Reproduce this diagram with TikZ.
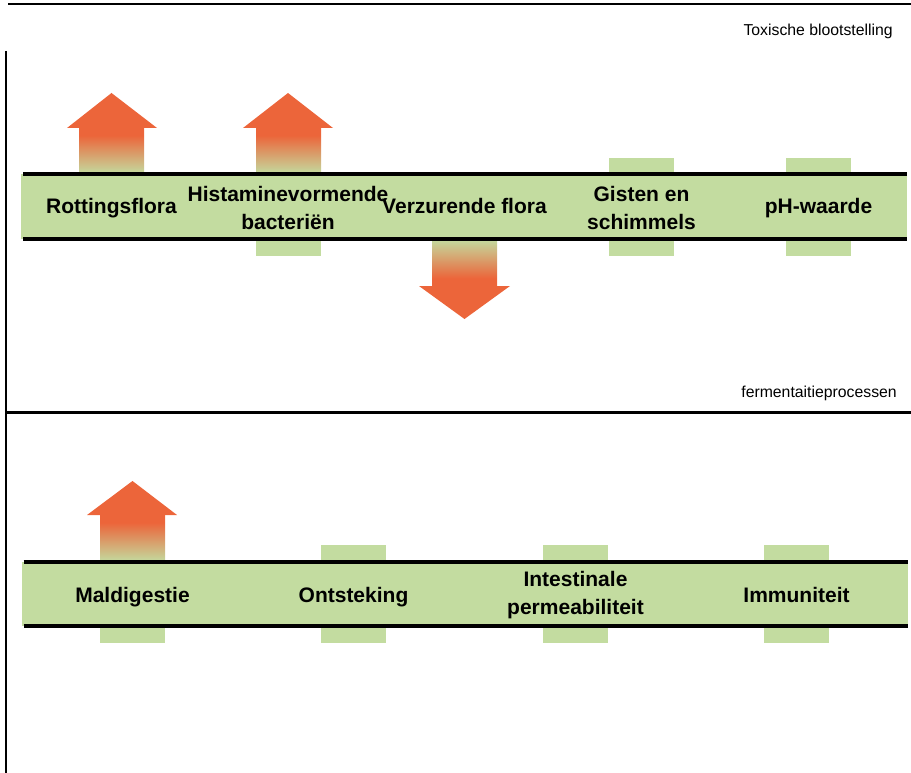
\documentclass[tikz,border=0pt]{standalone}
\usepackage{fontspec}
\setmainfont{Liberation Sans}
\definecolor{bandgreen}{HTML}{C3DCA0}
\definecolor{arroworange}{HTML}{EC653A}
\pgfdeclareverticalshading{upgrad}{100bp}{color(0bp)=(bandgreen); color(25bp)=(bandgreen); color(66bp)=(arroworange); color(100bp)=(arroworange)}
\pgfdeclareverticalshading{downgrad}{100bp}{color(0bp)=(arroworange); color(34bp)=(arroworange); color(75bp)=(bandgreen); color(100bp)=(bandgreen)}
\begin{document}
\begin{tikzpicture}[x=1pt,y=-1pt,
  bandbox/.style={fill=bandgreen, draw=none, inner sep=0pt, outer sep=0pt, anchor=north west},
  tabbox/.style={fill=bandgreen, draw=none},
  bandline/.style={line width=3.5pt, black},
  frameline/.style={line width=2pt, black},
  lbl/.style={font=\bfseries\fontsize{21}{28}\selectfont, inner sep=0pt, align=center},
  smalltxt/.style={font=\fontsize{15.8}{19}\selectfont, inner sep=0pt, anchor=base east},
  arrowhead/.style={fill=arroworange, draw=none},
  upshaft/.style={shading=upgrad, draw=none},
  downshaft/.style={shading=downgrad, draw=none}
]
\useasboundingbox (0,0) rectangle (911,773);

% frame lines
\coordinate (tl) at (8,4);
\coordinate (tr) at (911,4);
\coordinate (vl) at (6,51);
\coordinate (vb) at (6,773);
\coordinate (ml) at (6,412);
\coordinate (mr) at (911,412);
\draw[frameline] (tl) -- (tr);
\draw[frameline] (vl) -- (vb);
\draw[line width=3pt] (ml) -- (mr);

% small texts
\node[smalltxt] (tox) at (893,36) {Toxische blootstelling};
\node[smalltxt] (ferm) at (897,397) {fermentaitieprocessen};

% ---------- top band ----------
% tabs
\fill[tabbox] (256,239) rectangle (321,256);
\fill[tabbox] (609,158) rectangle (674,174);
\fill[tabbox] (609,239) rectangle (674,256);
\fill[tabbox] (786,158) rectangle (851,174);
\fill[tabbox] (786,239) rectangle (851,256);

% up arrows
\shade[upshaft] (79,127) rectangle (144,174);
\fill[arrowhead] (67,128) -- (111.5,93) -- (157,128) -- cycle;
\shade[upshaft] (256,127) rectangle (321,174);
\fill[arrowhead] (243,128) -- (288,93) -- (333,128) -- cycle;
% down arrow
\shade[downshaft] (432,239) rectangle (497,287);
\fill[arrowhead] (419,286) -- (464.5,319) -- (510,286) -- cycle;

\node[bandbox, minimum width=886pt, minimum height=65pt] (topband) at (21,174) {};
\draw[bandline] ([xshift=2pt]topband.north west) -- (topband.north east);
\draw[bandline] ([xshift=2pt]topband.south west) -- (topband.south east);

\node[lbl, anchor=base] (rot) at (111.5,214) {Rottingsflora};
\node[lbl] (hist) at (288,207.5) {Histaminevormende\\bacteriën};
\node[lbl, anchor=base] (verz) at (464.5,214) {Verzurende flora};
\node[lbl] (gist) at (641.5,207.5) {Gisten en\\schimmels};
\node[lbl, anchor=base] (ph) at (818.5,214) {pH-waarde};

% ---------- bottom band ----------
\fill[tabbox] (100,626) rectangle (165,643);
\fill[tabbox] (321,545) rectangle (386,562);
\fill[tabbox] (321,626) rectangle (386,643);
\fill[tabbox] (543,545) rectangle (608,562);
\fill[tabbox] (543,626) rectangle (608,643);
\fill[tabbox] (764,545) rectangle (829,562);
\fill[tabbox] (764,626) rectangle (829,643);

\shade[upshaft] (100,514) rectangle (165,562);
\fill[arrowhead] (87,515) -- (132.5,481) -- (177,515) -- cycle;

\node[bandbox, minimum width=886pt, minimum height=64pt] (botband) at (21.5,562) {};
\draw[bandline] ([xshift=2pt]botband.north west) -- (botband.north east);
\draw[bandline] ([xshift=2pt]botband.south west) -- (botband.south east);

\node[lbl, anchor=base] (mald) at (132.5,602) {Maldigestie};
\node[lbl, anchor=base] (onts) at (353.5,602) {Ontsteking};
\node[lbl] (intes) at (575.5,595) {Intestinale\\permeabiliteit};
\node[lbl, anchor=base] (immu) at (796.5,602) {Immuniteit};
\end{tikzpicture}
\end{document}
